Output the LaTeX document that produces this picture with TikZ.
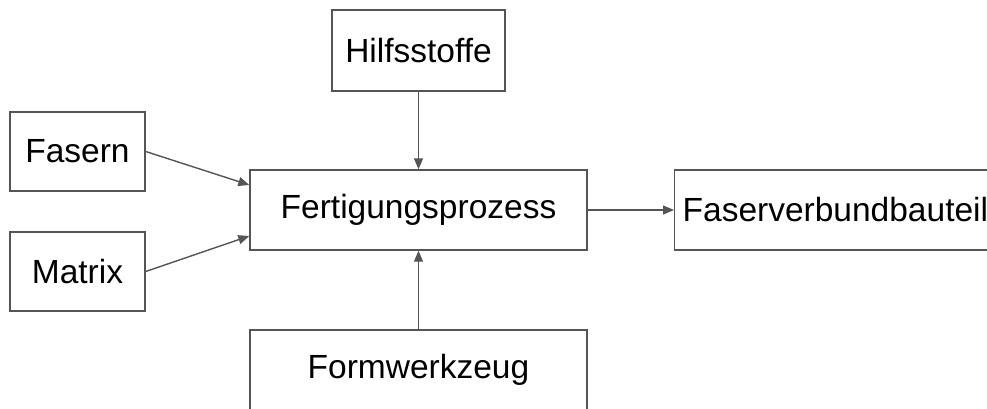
\documentclass[tikz,border=0pt]{standalone}
\usepackage{fontspec}
\setmainfont{Liberation Sans}
\usetikzlibrary{arrows.meta,calc}
\definecolor{edge}{HTML}{555555}
\tikzset{
  box/.style={draw=edge, line width=1.4pt, rectangle, inner sep=0pt,
              font=\fontsize{33.5}{40}\selectfont, text=black},
  flow/.style={draw=edge, line width=1.4pt,
               -{Triangle[length=11pt,width=9pt]}},
}
\begin{document}
\begin{tikzpicture}[x=1pt,y=-1pt]
  \useasboundingbox (0,0) rectangle (987,409);
  \clip (0,0) rectangle (987,409);
  % inputs
  \node[box, minimum width=135pt, minimum height=79pt] (fasern) at (77.5,151.5) {Fasern};
  \node[box, minimum width=135pt, minimum height=79pt] (matrix) at (77.5,271.5) {Matrix};
  \node[box, minimum width=173pt, minimum height=81pt] (hilf) at (418.5,50.5) {Hilfsstoffe};
  % process
  \node[box, minimum width=337pt, minimum height=80pt] (fert) at (418.5,210) {Fertigungsprozess};
  \node[box, minimum width=337pt, minimum height=80pt] (form) at (418.5,370) {Formwerkzeug};
  % product
  \node[box, anchor=west, inner xsep=8pt, text width=321pt, align=left,
        minimum height=80pt] (bauteil) at (674,210) {Faserverbundbauteil};
  % connectors
  \draw[flow] (fasern.east) -- ($(fert.west)+(0,-25)$);
  \draw[flow] (matrix.east) -- ($(fert.west)+(0,26)$);
  \draw[flow] (hilf.south) -- (fert.north);
  \draw[flow] (form.north) -- (fert.south);
  \draw[flow] (fert.east) -- (bauteil.west);
\end{tikzpicture}
\end{document}
